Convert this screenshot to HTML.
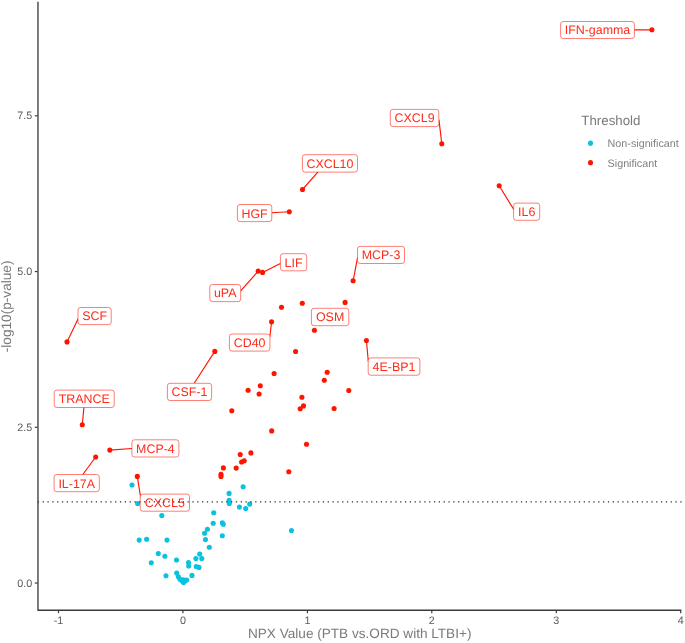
<!DOCTYPE html>
<html lang="en"><head><meta charset="utf-8"><title>Volcano plot</title>
<style>
html,body{margin:0;padding:0;background:#fff;}
body{width:685px;height:643px;overflow:hidden;}
svg{display:block;text-rendering:geometricPrecision;font-family:"Liberation Sans",Arial,Helvetica,sans-serif;}
.tk{font-size:10.75px;fill:#5c5c5c;}
.lg{font-size:10.75px;fill:#808080;}
.ti{font-size:13.55px;fill:#7a7a7a;}
.lb{font-size:12.42px;fill:#FF2A1A;text-anchor:middle;}
</style></head><body>
<svg width="685" height="643" viewBox="0 0 685 643">
<rect width="685" height="643" fill="#fff"/>
<g fill="#08C2DE">
<circle cx="132.0" cy="485.0" r="2.55"/>
<circle cx="137.6" cy="503.5" r="2.55"/>
<circle cx="161.8" cy="515.6" r="2.55"/>
<circle cx="139.2" cy="540.1" r="2.55"/>
<circle cx="146.6" cy="539.2" r="2.55"/>
<circle cx="167.0" cy="540.1" r="2.55"/>
<circle cx="158.3" cy="553.6" r="2.55"/>
<circle cx="164.9" cy="556.2" r="2.55"/>
<circle cx="151.3" cy="562.8" r="2.55"/>
<circle cx="176.5" cy="560.0" r="2.55"/>
<circle cx="166.0" cy="575.8" r="2.55"/>
<circle cx="176.7" cy="573.1" r="2.55"/>
<circle cx="183.2" cy="579.7" r="2.55"/>
<circle cx="178.4" cy="576.8" r="2.55"/>
<circle cx="180.0" cy="579.3" r="2.55"/>
<circle cx="181.9" cy="580.7" r="2.55"/>
<circle cx="183.6" cy="582.4" r="2.55"/>
<circle cx="185.0" cy="580.7" r="2.55"/>
<circle cx="186.6" cy="580.0" r="2.55"/>
<circle cx="192.0" cy="575.4" r="2.55"/>
<circle cx="188.5" cy="562.5" r="2.55"/>
<circle cx="188.7" cy="566.0" r="2.55"/>
<circle cx="196.2" cy="566.5" r="2.55"/>
<circle cx="199.0" cy="567.4" r="2.55"/>
<circle cx="195.9" cy="558.6" r="2.55"/>
<circle cx="199.7" cy="554.1" r="2.55"/>
<circle cx="201.8" cy="558.6" r="2.55"/>
<circle cx="209.3" cy="547.3" r="2.55"/>
<circle cx="205.5" cy="539.6" r="2.55"/>
<circle cx="204.6" cy="533.3" r="2.55"/>
<circle cx="207.4" cy="529.3" r="2.55"/>
<circle cx="213.2" cy="523.3" r="2.55"/>
<circle cx="213.7" cy="512.8" r="2.55"/>
<circle cx="222.3" cy="522.8" r="2.55"/>
<circle cx="223.3" cy="524.2" r="2.55"/>
<circle cx="222.3" cy="535.7" r="2.55"/>
<circle cx="229.1" cy="493.4" r="2.55"/>
<circle cx="229.1" cy="500.4" r="2.55"/>
<circle cx="229.3" cy="503.4" r="2.55"/>
<circle cx="243.1" cy="486.8" r="2.55"/>
<circle cx="239.4" cy="507.1" r="2.55"/>
<circle cx="245.7" cy="508.6" r="2.55"/>
<circle cx="249.7" cy="504.1" r="2.55"/>
<circle cx="291.5" cy="530.5" r="2.55"/>
</g>
<g fill="#FF1400">
<circle cx="651.9" cy="29.8" r="2.55"/>
<circle cx="441.8" cy="143.8" r="2.55"/>
<circle cx="499.2" cy="185.8" r="2.55"/>
<circle cx="302.5" cy="189.5" r="2.55"/>
<circle cx="289.3" cy="211.7" r="2.55"/>
<circle cx="258.2" cy="271.1" r="2.55"/>
<circle cx="262.6" cy="272.4" r="2.55"/>
<circle cx="353.1" cy="280.8" r="2.55"/>
<circle cx="314.4" cy="330.2" r="2.55"/>
<circle cx="271.6" cy="321.8" r="2.55"/>
<circle cx="366.4" cy="340.5" r="2.55"/>
<circle cx="67.0" cy="341.9" r="2.55"/>
<circle cx="214.8" cy="351.4" r="2.55"/>
<circle cx="82.3" cy="424.8" r="2.55"/>
<circle cx="109.8" cy="450.1" r="2.55"/>
<circle cx="95.7" cy="457.0" r="2.55"/>
<circle cx="137.3" cy="476.4" r="2.55"/>
<circle cx="281.5" cy="307.3" r="2.55"/>
<circle cx="302.3" cy="303.3" r="2.55"/>
<circle cx="345.1" cy="302.4" r="2.55"/>
<circle cx="295.6" cy="351.5" r="2.55"/>
<circle cx="274.1" cy="373.5" r="2.55"/>
<circle cx="327.2" cy="372.2" r="2.55"/>
<circle cx="324.3" cy="380.2" r="2.55"/>
<circle cx="348.8" cy="390.5" r="2.55"/>
<circle cx="260.3" cy="385.8" r="2.55"/>
<circle cx="248.1" cy="390.3" r="2.55"/>
<circle cx="259.1" cy="394.0" r="2.55"/>
<circle cx="301.9" cy="397.3" r="2.55"/>
<circle cx="303.5" cy="405.9" r="2.55"/>
<circle cx="300.2" cy="408.7" r="2.55"/>
<circle cx="334.1" cy="408.5" r="2.55"/>
<circle cx="231.8" cy="410.8" r="2.55"/>
<circle cx="271.7" cy="430.9" r="2.55"/>
<circle cx="306.5" cy="444.3" r="2.55"/>
<circle cx="250.9" cy="452.9" r="2.55"/>
<circle cx="240.2" cy="454.5" r="2.55"/>
<circle cx="244.2" cy="460.8" r="2.55"/>
<circle cx="241.6" cy="462.0" r="2.55"/>
<circle cx="236.2" cy="468.1" r="2.55"/>
<circle cx="223.4" cy="467.9" r="2.55"/>
<circle cx="221.0" cy="474.2" r="2.55"/>
<circle cx="221.0" cy="476.4" r="2.55"/>
<circle cx="288.8" cy="471.8" r="2.55"/>
</g>
<g stroke="#FF1400" stroke-width="1.15" stroke-linecap="round">
<line x1="651.9" y1="29.8" x2="634.4" y2="29.8"/>
<line x1="441.8" y1="143.8" x2="439.0" y2="120.2"/>
<line x1="499.2" y1="185.8" x2="513.6" y2="209.2"/>
<line x1="302.5" y1="189.5" x2="317.8" y2="172.1"/>
<line x1="289.3" y1="211.7" x2="271.8" y2="212.7"/>
<line x1="258.2" y1="271.1" x2="240.7" y2="290.8"/>
<line x1="262.6" y1="272.4" x2="280.4" y2="263.5"/>
<line x1="353.1" y1="280.8" x2="357.5" y2="257.9"/>
<line x1="271.6" y1="321.8" x2="269.9" y2="336.5"/>
<line x1="366.4" y1="340.5" x2="368.3" y2="361.3"/>
<line x1="67.0" y1="341.9" x2="78.0" y2="318.9"/>
<line x1="214.8" y1="351.4" x2="194.2" y2="383.3"/>
<line x1="82.3" y1="424.8" x2="83.9" y2="407.5"/>
<line x1="109.8" y1="450.1" x2="131.9" y2="448.5"/>
<line x1="95.7" y1="457.0" x2="82.8" y2="474.5"/>
<line x1="137.3" y1="476.4" x2="140.8" y2="498.5"/>
</g>
<rect x="560.6" y="21.5" width="73.8" height="17.0" rx="2.6" fill="#fff" stroke="#FF1400" stroke-width="0.55"/>
<text class="lb" x="597.5" y="34.4">IFN-gamma</text>
<rect x="390.3" y="109.4" width="48.5" height="17.2" rx="2.6" fill="#fff" stroke="#FF1400" stroke-width="0.55"/>
<text class="lb" x="414.6" y="122.4">CXCL9</text>
<rect x="513.6" y="203.1" width="26.1" height="17.2" rx="2.6" fill="#fff" stroke="#FF1400" stroke-width="0.55"/>
<text class="lb" x="526.7" y="216.1">IL6</text>
<rect x="302.4" y="154.7" width="55.1" height="17.4" rx="2.6" fill="#fff" stroke="#FF1400" stroke-width="0.55"/>
<text class="lb" x="329.9" y="167.8">CXCL10</text>
<rect x="237.4" y="204.5" width="34.4" height="17.1" rx="2.6" fill="#fff" stroke="#FF1400" stroke-width="0.55"/>
<text class="lb" x="254.6" y="217.5">HGF</text>
<rect x="209.8" y="284.5" width="30.9" height="17.1" rx="2.6" fill="#fff" stroke="#FF1400" stroke-width="0.55"/>
<text class="lb" x="225.2" y="297.4">uPA</text>
<rect x="280.4" y="253.7" width="26.3" height="17.1" rx="2.6" fill="#fff" stroke="#FF1400" stroke-width="0.55"/>
<text class="lb" x="293.5" y="266.6">LIF</text>
<rect x="357.5" y="246.4" width="47.0" height="17.1" rx="2.6" fill="#fff" stroke="#FF1400" stroke-width="0.55"/>
<text class="lb" x="381.0" y="259.3">MCP-3</text>
<rect x="311.4" y="308.3" width="37.4" height="17.4" rx="2.6" fill="#fff" stroke="#FF1400" stroke-width="0.55"/>
<text class="lb" x="330.1" y="321.4">OSM</text>
<rect x="229.4" y="334.0" width="40.5" height="17.1" rx="2.6" fill="#fff" stroke="#FF1400" stroke-width="0.55"/>
<text class="lb" x="249.6" y="346.9">CD40</text>
<rect x="368.2" y="357.9" width="51.7" height="17.3" rx="2.6" fill="#fff" stroke="#FF1400" stroke-width="0.55"/>
<text class="lb" x="394.0" y="370.9">4E-BP1</text>
<rect x="78.0" y="307.5" width="33.2" height="17.1" rx="2.6" fill="#fff" stroke="#FF1400" stroke-width="0.55"/>
<text class="lb" x="94.6" y="320.4">SCF</text>
<rect x="167.4" y="383.3" width="44.2" height="17.2" rx="2.6" fill="#fff" stroke="#FF1400" stroke-width="0.55"/>
<text class="lb" x="189.5" y="396.3">CSF-1</text>
<rect x="54.2" y="390.1" width="60.0" height="17.4" rx="2.6" fill="#fff" stroke="#FF1400" stroke-width="0.55"/>
<text class="lb" x="84.2" y="403.2">TRANCE</text>
<rect x="131.9" y="439.8" width="47.0" height="17.2" rx="2.6" fill="#fff" stroke="#FF1400" stroke-width="0.55"/>
<text class="lb" x="155.4" y="452.8">MCP-4</text>
<rect x="54.1" y="474.5" width="45.2" height="17.2" rx="2.6" fill="#fff" stroke="#FF1400" stroke-width="0.55"/>
<text class="lb" x="76.7" y="487.5">IL-17A</text>
<rect x="140.2" y="494.1" width="49.3" height="17.1" rx="2.6" fill="#fff" stroke="#FF1400" stroke-width="0.55"/>
<text class="lb" x="164.8" y="507.0">CXCL5</text>
<line x1="37.8" y1="501.9" x2="681.6" y2="501.9" stroke="#2a2a2a" stroke-width="1.3" stroke-dasharray="1.25 3.581"/>
<g stroke="#3a3a3a" stroke-width="1.32" fill="none">
<path d="M37.97 1.8V610.25H681.4" stroke-linejoin="round"/>
</g>
<g stroke="#3a3a3a" stroke-width="1.2">
<line x1="34.8" x2="37.5" y1="583.05" y2="583.05"/>
<line x1="34.8" x2="37.5" y1="427.30" y2="427.30"/>
<line x1="34.8" x2="37.5" y1="271.55" y2="271.55"/>
<line x1="34.8" x2="37.5" y1="115.80" y2="115.80"/>
<line y1="610.8" y2="613.2" x1="58.5" x2="58.5"/>
<line y1="610.8" y2="613.2" x1="182.9" x2="182.9"/>
<line y1="610.8" y2="613.2" x1="307.4" x2="307.4"/>
<line y1="610.8" y2="613.2" x1="431.8" x2="431.8"/>
<line y1="610.8" y2="613.2" x1="556.3" x2="556.3"/>
<line y1="610.8" y2="613.2" x1="680.7" x2="680.7"/>
</g>
<text class="tk" text-anchor="end" x="32.3" y="586.8">0.0</text>
<text class="tk" text-anchor="end" x="32.3" y="430.9">2.5</text>
<text class="tk" text-anchor="end" x="32.3" y="275.0">5.0</text>
<text class="tk" text-anchor="end" x="32.3" y="119.2">7.5</text>
<text class="tk" text-anchor="middle" x="58.5" y="623.5">-1</text>
<text class="tk" text-anchor="middle" x="182.9" y="623.5">0</text>
<text class="tk" text-anchor="middle" x="307.4" y="623.5">1</text>
<text class="tk" text-anchor="middle" x="431.8" y="623.5">2</text>
<text class="tk" text-anchor="middle" x="556.3" y="623.5">3</text>
<text class="tk" text-anchor="middle" x="680.7" y="623.5">4</text>
<text class="ti" text-anchor="middle" x="359.7" y="638.15" style="font-size:13.6px">NPX Value (PTB vs.ORD with LTBI+)</text>
<text class="ti" style="font-size:13.65px" text-anchor="middle" transform="translate(10.8 306.4) rotate(-90)">-log10(p-value)</text>
<text class="ti" style="font-size:13.3px" x="581.3" y="125.2">Threshold</text>
<circle cx="590.5" cy="143.15" r="2.55" fill="#08C2DE"/>
<circle cx="590.5" cy="162.65" r="2.55" fill="#FF1400"/>
<text class="lg" x="607.6" y="146.9">Non-significant</text>
<text class="lg" x="607.6" y="166.5">Significant</text>
</svg></body></html>
